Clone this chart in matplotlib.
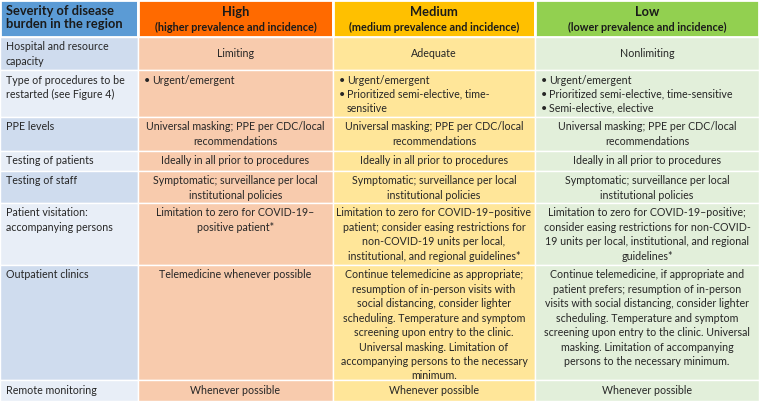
import matplotlib.pyplot as plt
from matplotlib.patches import Rectangle

plt.rcParams["font.family"] = ["Lato", "DejaVu Sans"]

# table content
corner_label = "Severity of disease\nburden in the region"
level_names = ["High", "Medium", "Low"]
level_notes = [
    "(higher prevalence and incidence)",
    "(medium prevalence and incidence)",
    "(lower prevalence and incidence)",
]
row_labels = [
    "Hospital and resource\ncapacity",
    "Type of procedures to be\nrestarted (see Figure 4)",
    "PPE levels",
    "Testing of patients",
    "Testing of staff",
    "Patient visitation:\naccompanying persons",
    "Outpatient clinics",
    "Remote monitoring",
]
high_cells = [
    "Limiting",
    ["Urgent/emergent"],
    "Universal masking; PPE per CDC/local\nrecommendations",
    "Ideally in all prior to procedures",
    "Symptomatic; surveillance per local\ninstitutional policies",
    "Limitation to zero for COVID-19\u2013\npositive patient*",
    "Telemedicine whenever possible",
    "Whenever possible",
]
medium_cells = [
    "Adequate",
    ["Urgent/emergent", "Prioritized semi-elective, time-\nsensitive"],
    "Universal masking; PPE per CDC/local\nrecommendations",
    "Ideally in all prior to procedures",
    "Symptomatic; surveillance per local\ninstitutional policies",
    "Limitation to zero for COVID-19\u2013positive\npatient; consider easing restrictions for\n"
    "non-COVID-19 units per local,\ninstitutional, and regional guidelines*",
    "Continue telemedicine as appropriate;\nresumption of in-person visits with\n"
    "social distancing, consider lighter\nscheduling. Temperature and symptom\n"
    "screening upon entry to the clinic.\nUniversal masking. Limitation of\n"
    "accompanying persons to the necessary\nminimum.",
    "Whenever possible",
]
low_cells = [
    "Nonlimiting",
    ["Urgent/emergent", "Prioritized semi-elective, time-sensitive",
     "Semi-elective, elective"],
    "Universal masking; PPE per CDC/local\nrecommendations",
    "Ideally in all prior to procedures",
    "Symptomatic; surveillance per local\ninstitutional policies",
    "Limitation to zero for COVID-19\u2013positive;\nconsider easing restrictions for non-COVID-\n"
    "19 units per local, institutional, and regional\nguidelines*",
    "Continue telemedicine, if appropriate and\npatient prefers; resumption of in-person\n"
    "visits with social distancing, consider lighter\nscheduling. Temperature and symptom\n"
    "screening upon entry to the clinic. Universal\nmasking. Limitation of accompanying\n"
    "persons to the necessary minimum.",
    "Whenever possible",
]
centered_rows = [0]  # body text vertically centred in these rows

# layout (pixels)
col_edges = [0, 138, 333, 535, 759]
row_edges = [0, 37, 70, 117, 151, 171, 203, 265, 380, 401]

header_colors = ["#5B9BD5", "#FF6A00", "#FFC000", "#92D050"]
body_colors = ["#F8CBAD", "#FFE699", "#E2EFDA"]
label_colors = ["#CFDCEE", "#E8EEF7"]
text_color = "#262626"
fs = 7.7
ls = 1.38
line_h = 14.0
top_pad = 4.5

fig = plt.figure(figsize=(7.59, 4.01), dpi=100)
ax = fig.add_axes([0, 0, 1, 1])
ax.set_xlim(0, 759)
ax.set_ylim(401, 0)
ax.axis("off")


def cell(x0, x1, y0, y1, color, lw=1.0):
    ax.add_patch(Rectangle((x0, y0), x1 - x0, y1 - y0, facecolor=color,
                           edgecolor="white", linewidth=lw))


# header row
for j in range(4):
    cell(col_edges[j], col_edges[j + 1], row_edges[0], row_edges[1],
         header_colors[j], lw=2.0)
ax.text(6, 5, corner_label, ha="left", va="top", fontsize=9.3,
        fontweight="bold", color="#1A1A1A", linespacing=1.15)
for j in range(3):
    xc = (col_edges[j + 1] + col_edges[j + 2]) / 2
    ax.text(xc, 5.5, level_names[j], ha="center", va="top", fontsize=9.3,
            fontweight="bold", color="#1A1A1A")
    ax.text(xc, 21.5, level_notes[j], ha="center", va="top", fontsize=7.8,
            fontweight="bold", color="#1A1A1A")

# body rows
columns = [high_cells, medium_cells, low_cells]
for i, label in enumerate(row_labels):
    y0, y1 = row_edges[i + 1], row_edges[i + 2]
    cell(col_edges[0], col_edges[1], y0, y1, label_colors[i % 2])
    ax.text(6, y0 + top_pad, label, ha="left", va="top", fontsize=fs,
            color=text_color, linespacing=ls)
    for j, col in enumerate(columns):
        x0, x1 = col_edges[j + 1], col_edges[j + 2]
        cell(x0, x1, y0, y1, body_colors[j])
        content = col[i]
        if isinstance(content, list):
            yy = y0 + top_pad
            for item in content:
                ax.text(x0 + 6, yy, "\u2022", ha="left", va="top",
                        fontsize=fs, color=text_color)
                ax.text(x0 + 14, yy, item, ha="left", va="top", fontsize=fs,
                        color=text_color, linespacing=ls)
                yy += line_h * (item.count("\n") + 1)
        elif i in centered_rows:
            ax.text((x0 + x1) / 2, (y0 + y1) / 2, content, ha="center",
                    va="center", fontsize=fs, color=text_color, linespacing=ls)
        else:
            ax.text((x0 + x1) / 2, y0 + top_pad, content, ha="center",
                    va="top", fontsize=fs, color=text_color, linespacing=ls)

fig.savefig("out.png", dpi=100)
